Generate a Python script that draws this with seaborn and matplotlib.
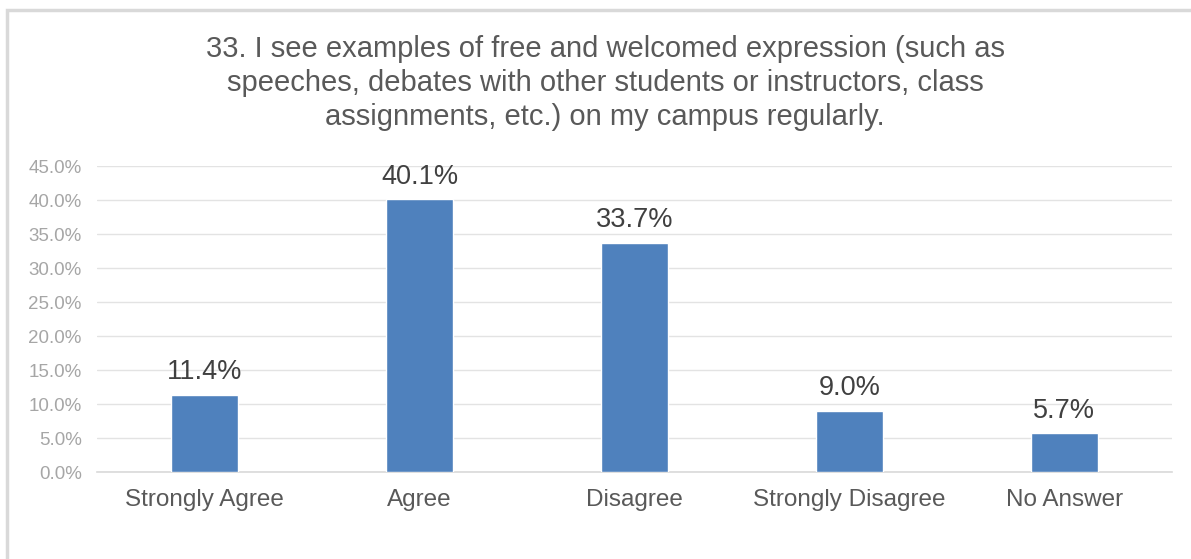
import matplotlib
matplotlib.use("Agg")
import matplotlib.pyplot as plt
import matplotlib.patches as mpatches
from matplotlib.ticker import PercentFormatter
import seaborn as sns
import pandas as pd

# --- Data ---
categories = ["Strongly Agree", "Agree", "Disagree", "Strongly Disagree", "No Answer"]
percentages = [11.4, 40.1, 33.7, 9.0, 5.7]
title = ("33. I see examples of free and welcomed expression (such as\n"
         "speeches, debates with other students or instructors, class\n"
         "assignments, etc.) on my campus regularly.")

df = pd.DataFrame({"answer": categories, "pct": percentages})

sns.set_theme(style="white")
plt.rcParams["font.family"] = ["Liberation Sans", "DejaVu Sans"]

fig = plt.figure(figsize=(11.91, 5.59), dpi=100)
ax = fig.add_axes([0.0814, 0.1556, 0.9026, 0.5474])

# outer chart frame (only left and top edges visible in the crop)
fig.patches.append(mpatches.Rectangle((7 / 1191, -0.5), 2.0, 1.5 - 10 / 559,
                                      transform=fig.transFigure, fill=False,
                                      edgecolor="#D9D9D9", linewidth=2.5, zorder=0))

sns.barplot(data=df, x="answer", y="pct", color="#4F81BD", saturation=1,
            width=0.31, ax=ax, zorder=3)

ax.set_ylim(0, 45)
ax.set_yticks(range(0, 46, 5))
ax.yaxis.set_major_formatter(PercentFormatter(decimals=1))
ax.grid(axis="y", color="#E3E3E3", linewidth=1)
ax.set_axisbelow(True)
for s in ["top", "right", "left"]:
    ax.spines[s].set_visible(False)
ax.spines["bottom"].set_color("#D9D9D9")
ax.spines["bottom"].set_linewidth(1.2)

ax.tick_params(axis="y", labelsize=13.5, labelcolor="#A6A6A6", length=0, pad=11)
ax.tick_params(axis="x", labelsize=17.5, labelcolor="#595959", length=0, pad=12)
ax.set_xlabel("")
ax.set_ylabel("")

for c in ax.containers:
    ax.bar_label(c, labels=[f"{v:.1f}%" for v in percentages], padding=7,
                 fontsize=19.5, color="#404040")

fig.text(0.508, 0.937, title, ha="center", va="top", fontsize=21,
         color="#595959", linespacing=1.27)

fig.savefig("out.png", dpi=100, facecolor="white")
